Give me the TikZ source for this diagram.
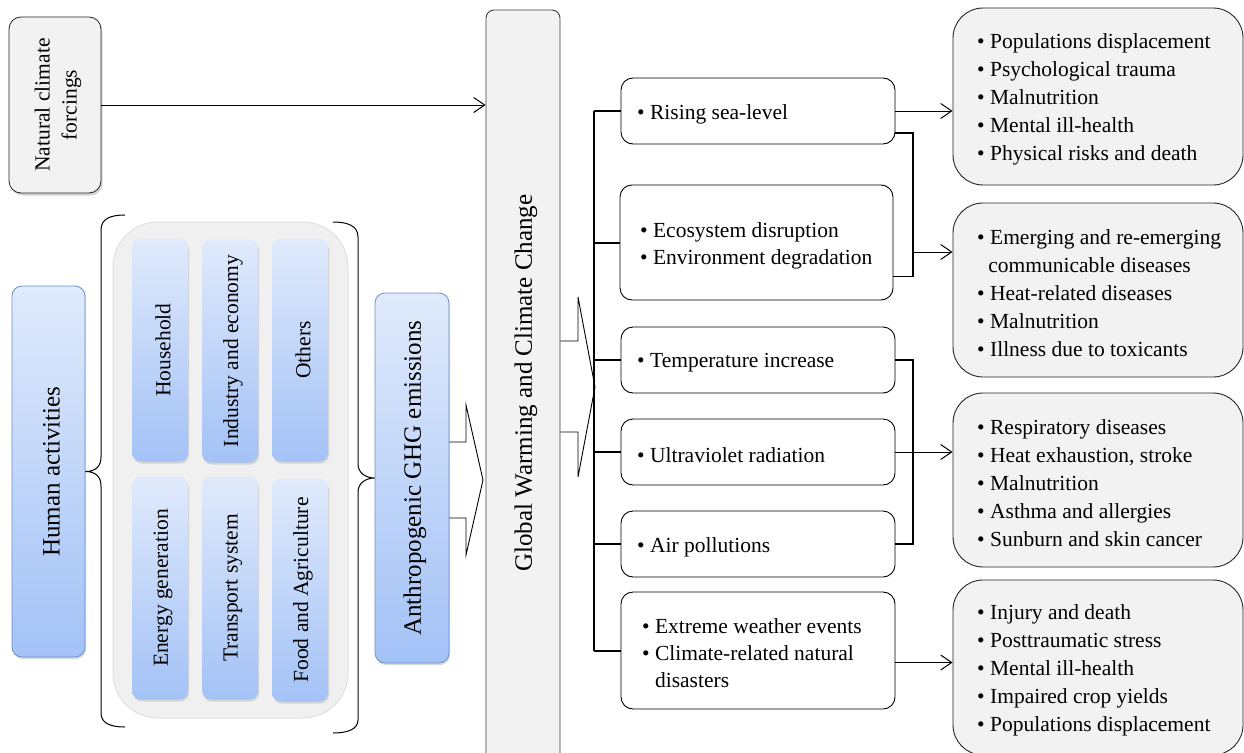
\documentclass[tikz,border=0pt]{standalone}
\usepackage{fontspec}
\setmainfont{Liberation Serif}
\usetikzlibrary{arrows.meta,shadows,calc}
\definecolor{boxgray}{HTML}{F2F2F2}
\definecolor{contgray}{HTML}{F0F0F0}
\definecolor{bluetop}{HTML}{E0EAFC}
\definecolor{bluebot}{HTML}{A3C2F6}
\definecolor{blueline}{HTML}{6890CA}
\newcommand{\mytxtmid}{\fontsize{21.5}{27}\selectfont}
\newcommand{\mytxtres}{\fontsize{21.5}{28}\selectfont}
\newcommand{\mytxtbig}{\fontsize{25}{30}\selectfont}
\begin{document}
\begin{tikzpicture}[x=1pt,y=-1pt,
  natbox/.style={draw=black!85, fill=boxgray, rounded corners=12pt, line width=0.8pt, inner sep=0pt,
    drop shadow={opacity=0.35, shadow xshift=1.5pt, shadow yshift=-2.5pt}},
  gwbox/.style={draw=black!75, fill=boxgray, rounded corners=8pt, line width=0.9pt, inner sep=0pt},
  bluebox/.style={draw=blueline, top color=bluetop, bottom color=bluebot, rounded corners=10pt, line width=0.8pt, inner sep=0pt,
    drop shadow={opacity=0.3, shadow xshift=1pt, shadow yshift=-2pt}},
  innerbox/.style={top color=bluetop, bottom color=bluebot, rounded corners=9pt, inner sep=0pt,
    minimum width=56pt, minimum height=223pt,
    drop shadow={opacity=0.25, shadow xshift=1pt, shadow yshift=-2pt}},
  contbox/.style={draw=black!12, fill=contgray, rounded corners=45pt, line width=1pt, inner sep=0pt},
  midbox/.style={draw=black, fill=white, rounded corners=12pt, line width=0.9pt, minimum width=274pt, inner sep=0pt},
  resbox/.style={draw=black!85, fill=boxgray, rounded corners=30pt, line width=0.9pt, minimum width=290pt, inner sep=0pt},
  vtext/.style={rotate=90, font=\mytxtmid, align=center, inner sep=0pt, yshift=-3pt},
  vbig/.style={rotate=90, font=\mytxtbig, align=center, inner sep=0pt, yshift=-3pt},
  midtext/.style={anchor=west, align=left, font=\mytxtmid, inner sep=0pt, yshift=-3pt},
  restext/.style={anchor=west, align=left, font=\mytxtres, inner sep=0pt, yshift=-3pt},
  arr/.style={-{Straight Barb[length=11pt,width=15pt]}, line width=1pt},
  conn/.style={line width=1.5pt},
  busline/.style={line width=2pt},
  bracestyle/.style={line width=1pt},
  blockarrow/.style={line width=0.9pt}
]
\useasboundingbox (0,0) rectangle (1244,752);

% ---- left part ----
\node[natbox, minimum width=92pt, minimum height=176pt] (nat) at (55,105) {};
\node[vtext] (natt) at (nat.center) {Natural climate\\forcings};

\node[bluebox, minimum width=73pt, minimum height=371pt] (human) at (48.5,471.5) {};
\node[vbig] (humant) at (human.center) {Human activities};

\node[contbox, minimum width=235pt, minimum height=496pt] (cont) at (230.5,470) {};

\node[innerbox] (hh) at (160,350) {};
\node[vtext] (hht) at (hh.center) {Household};
\node[innerbox] (ind) at (230,351) {};
\node[vtext] (indt) at (ind.center) {Industry and economy};
\node[innerbox] (oth) at (300,350) {};
\node[vtext] (otht) at (oth.center) {Others};
\node[innerbox] (eng) at (160,588) {};
\node[vtext] (engt) at (eng.center) {Energy generation};
\node[innerbox] (tra) at (230,588) {};
\node[vtext] (trat) at (tra.center) {Transport system};
\node[innerbox] (food) at (300,590) {};
\node[vtext] (foodt) at (food.center) {Food and Agriculture};

% braces
\draw[bracestyle] (125,215) .. controls (110,215) and (101,219) .. (101,230) -- (101,457)
  .. controls (101,466) and (96,471.5) .. (human.east)
  .. controls (96,471.5) and (101,477) .. (101,486) -- (101,713)
  .. controls (101,723) and (110,727) .. (125,727);

\node[bluebox, minimum width=74pt, minimum height=370pt] (ghg) at (412,478) {};
\node[vbig] (ghgt) at (ghg.center) {Anthropogenic GHG emissions};

\draw[bracestyle] (333,222) .. controls (348,222) and (358,226) .. (358,237) -- (358,464)
  .. controls (358,473) and (366,478) .. (ghg.west)
  .. controls (366,478) and (358,483) .. (358,492) -- (358,720)
  .. controls (358,729) and (348,733) .. (333,733);

% ---- global warming ----
\node[gwbox, minimum width=74pt, minimum height=760pt] (gw) at (523,390) {};
\node[vbig] (gwt) at (523,383) {Global Warming and Climate Change};

\draw[arr] (nat.east) -- (gw.west |- nat.east);

% block arrows
\draw[blockarrow] (ghg.east |- 0,442) -- (466,442) -- (466,405) -- (483,480) -- (466,555) -- (466,518) -- (ghg.east |- 0,518);
\draw[blockarrow] (gw.east |- 0,341) -- (578,341) -- (578,297) -- (595,387) -- (578,477) -- (578,432) -- (gw.east |- 0,432);

% ---- middle boxes ----
\node[midbox, minimum height=66pt] (rise) at (758,111) {};
\node[midtext] (riset) at (637,111) {• Rising sea-level};
\node[midbox, minimum width=273pt, minimum height=115pt] (eco) at (756.5,242.5) {};
\node[midtext] (ecot) at (640,242.5) {• Ecosystem disruption\\• Environment degradation};
\node[midbox, minimum height=66pt] (temp) at (758,360) {};
\node[midtext] (tempt) at (637,360) {• Temperature increase};
\node[midbox, minimum height=66pt] (uv) at (758,452) {};
\node[midtext] (uvt) at (637,452) {• Ultraviolet radiation};
\node[midbox, minimum height=66pt] (air) at (758,544) {};
\node[midtext] (airt) at (637,544) {• Air pollutions};
\node[midbox, minimum height=117pt] (ext) at (758,650.5) {};
\node[midtext] (extt) at (642,650.5) {• Extreme weather events\\• Climate-related natural\\\hphantom{• }disasters};

% bus
\coordinate (bt) at (594,111);
\coordinate (bb) at (594,650.5);
\draw[busline] (bt) -- (bb);
\foreach \n in {rise,eco,temp,uv,air,ext}{
  \draw[busline] (\n.west -| bt) -- (\n.west);
}

% ---- result boxes ----
\node[resbox, minimum height=177pt] (r1) at (1098,96.5) {};
\node[restext] (r1t) at (977,96.5) {• Populations displacement\\• Psychological trauma\\• Malnutrition\\• Mental ill-health\\• Physical risks and death};
\node[resbox, minimum height=174pt] (r2) at (1098,290) {};
\node[restext] (r2t) at (977,290) {• Emerging and re-emerging\\\hphantom{•}\,communicable diseases\\• Heat-related diseases\\• Malnutrition\\• Illness due to toxicants};
\node[resbox, minimum height=174pt] (r3) at (1098,480) {};
\node[restext] (r3t) at (977,480) {• Respiratory diseases\\• Heat exhaustion, stroke\\• Malnutrition\\• Asthma and allergies\\• Sunburn and skin cancer};
\node[resbox, minimum height=175pt] (r4) at (1098,667.5) {};
\node[restext] (r4t) at (977,667.5) {• Injury and death\\• Posttraumatic stress\\• Mental ill-health\\• Impaired crop yields\\• Populations displacement};

% connectors to results
\draw[arr] (rise.east) -- (r1.west |- rise.east);
\coordinate (k1) at (913,252);
\draw[conn] ([yshift=-22pt]rise.east) -| (k1) |- ([yshift=-34pt]eco.east);
\draw[arr] (k1) -- (r2.west |- k1);
\coordinate (k2) at (913,452);
\draw[conn] (temp.east) -| (k2) |- (air.east);
\draw[arr] (uv.east) -- (r3.west |- uv.east);
\draw[arr] ([yshift=-12pt]ext.east) -- (r4.west |- 0,662.5);
\end{tikzpicture}
\end{document}
